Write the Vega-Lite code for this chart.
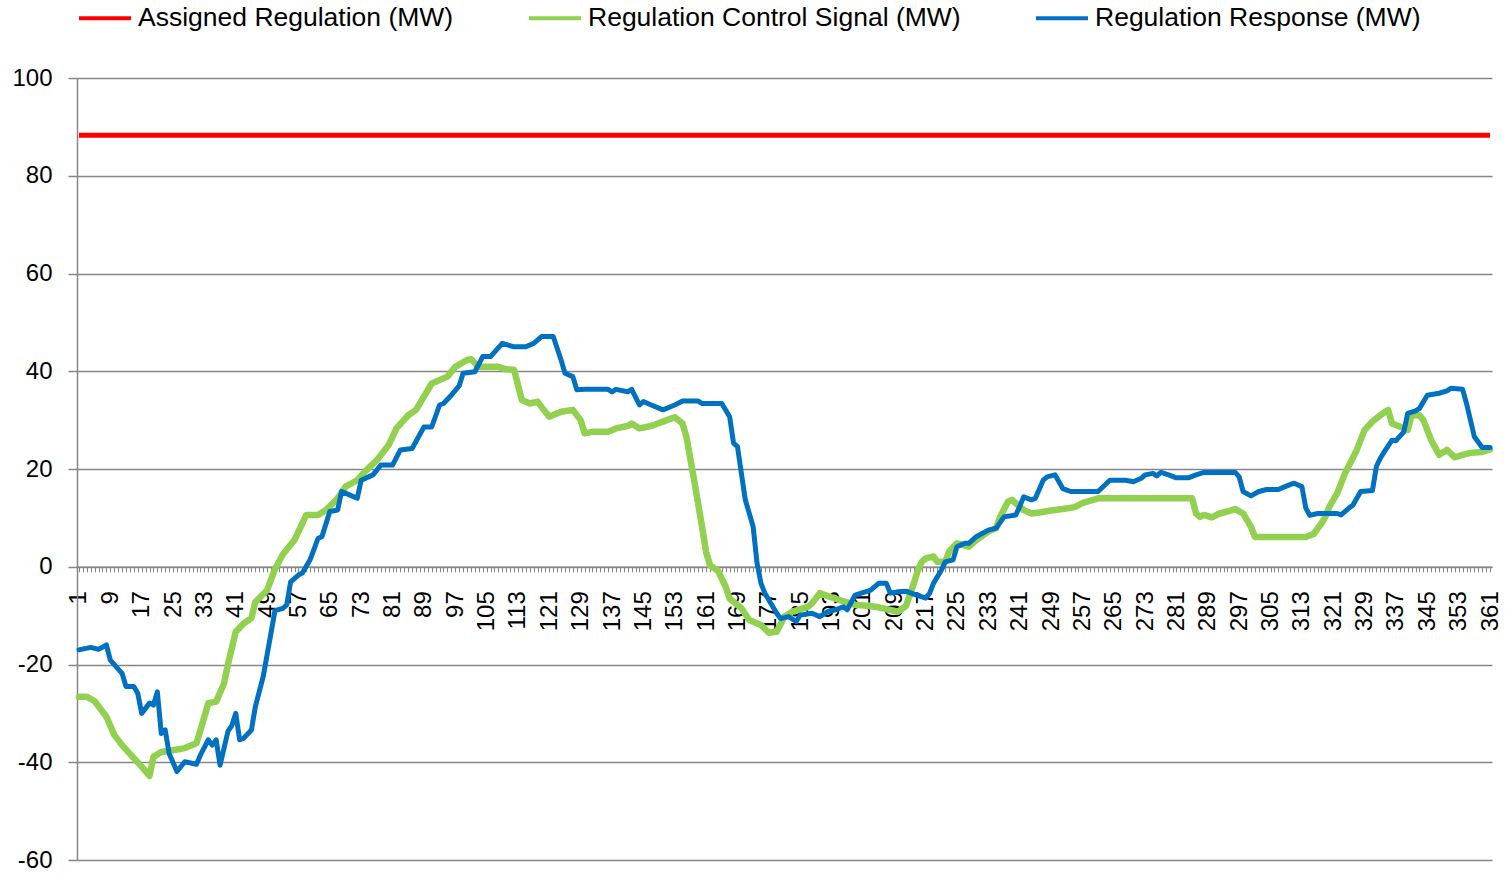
{
  "$schema": "https://vega.github.io/schema/vega-lite/v6.json",
  "width": 1415,
  "height": 782,
  "autosize": "none",
  "padding": {"left": 77, "top": 78, "right": 18, "bottom": 15},
  "background": "white",
  "config": {
    "view": {"stroke": null},
    "font": "Liberation Sans",
    "axis": {"labelFont": "Liberation Sans", "labelColor": "#000000", "titleFont": "Liberation Sans"},
    "legend": {"labelFont": "Liberation Sans"}
  },
  "datasets": {
    "assigned": [
      {"t": 1, "v": 88.3}, {"t": 361, "v": 88.3}
    ],
    "signal": [
      {"t":1,"v":-26.6},{"t":3,"v":-26.6},{"t":5,"v":-27.5},{"t":8,"v":-30.7},{"t":10,"v":-34.4},{"t":12,"v":-36.5},{"t":14,"v":-38.3},{"t":17,"v":-40.9},{"t":19,"v":-42.8},{"t":20,"v":-38.9},{"t":22,"v":-37.9},{"t":26,"v":-37.4},{"t":28,"v":-37.1},{"t":31,"v":-36.1},{"t":33,"v":-30.7},{"t":34,"v":-27.9},{"t":36,"v":-27.6},{"t":38,"v":-23.9},{"t":39,"v":-20},{"t":41,"v":-13.3},{"t":43,"v":-11.6},{"t":45,"v":-10.5},{"t":46,"v":-7.2},{"t":49,"v":-4.8},{"t":51,"v":-0.5},{"t":53,"v":2.5},{"t":55,"v":4.5},{"t":56,"v":5.5},{"t":58,"v":8.9},{"t":59,"v":10.6},{"t":62,"v":10.6},{"t":64,"v":11.6},{"t":67,"v":14},{"t":69,"v":16.4},{"t":72,"v":17.7},{"t":74,"v":19.5},{"t":77,"v":21.8},{"t":80,"v":24.9},{"t":82,"v":28.3},{"t":85,"v":31},{"t":87,"v":32.1},{"t":89,"v":34.8},{"t":91,"v":37.5},{"t":95,"v":38.9},{"t":97,"v":40.9},{"t":100,"v":42.3},{"t":101,"v":42.5},{"t":103,"v":40.9},{"t":108,"v":40.9},{"t":110,"v":40.4},{"t":112,"v":40.3},{"t":114,"v":34.1},{"t":116,"v":33.4},{"t":118,"v":33.8},{"t":119,"v":32.7},{"t":121,"v":30.7},{"t":124,"v":31.7},{"t":127,"v":32.1},{"t":129,"v":30},{"t":130,"v":27.3},{"t":132,"v":27.6},{"t":136,"v":27.6},{"t":138,"v":28.3},{"t":141,"v":28.8},{"t":142,"v":29.3},{"t":144,"v":28.3},{"t":147,"v":28.8},{"t":151,"v":30},{"t":153,"v":30.6},{"t":155,"v":29.3},{"t":156,"v":26.5},{"t":158,"v":17.5},{"t":160,"v":8},{"t":161,"v":3},{"t":162,"v":0.3},{"t":164,"v":-0.8},{"t":166,"v":-4.1},{"t":167,"v":-6.5},{"t":170,"v":-8.5},{"t":172,"v":-10.9},{"t":175,"v":-11.9},{"t":177,"v":-13.5},{"t":179,"v":-13.3},{"t":181,"v":-10.2},{"t":183,"v":-9.2},{"t":187,"v":-8.2},{"t":188,"v":-7.5},{"t":190,"v":-5.4},{"t":192,"v":-6},{"t":195,"v":-6.8},{"t":199,"v":-7.8},{"t":202,"v":-8},{"t":205,"v":-8.3},{"t":210,"v":-9.2},{"t":212,"v":-8},{"t":214,"v":-3.4},{"t":215,"v":-0.8},{"t":216,"v":1},{"t":217,"v":1.7},{"t":219,"v":2.1},{"t":220,"v":1},{"t":222,"v":1},{"t":223,"v":3.1},{"t":225,"v":4.8},{"t":228,"v":4.1},{"t":230,"v":5.5},{"t":233,"v":7.2},{"t":235,"v":7.9},{"t":236,"v":10.2},{"t":238,"v":13.3},{"t":239,"v":13.7},{"t":242,"v":11.6},{"t":244,"v":10.9},{"t":246,"v":11.1},{"t":249,"v":11.5},{"t":252,"v":11.8},{"t":255,"v":12.2},{"t":257,"v":13},{"t":259,"v":13.5},{"t":261,"v":14},{"t":285,"v":14},{"t":286,"v":10.9},{"t":287,"v":10.2},{"t":288,"v":10.6},{"t":290,"v":10.1},{"t":292,"v":10.9},{"t":294,"v":11.3},{"t":296,"v":11.8},{"t":298,"v":10.9},{"t":300,"v":8.2},{"t":301,"v":6.1},{"t":314,"v":6.1},{"t":316,"v":6.7},{"t":318,"v":8.9},{"t":319,"v":10.2},{"t":320,"v":12.3},{"t":322,"v":15},{"t":324,"v":19.1},{"t":327,"v":23.9},{"t":329,"v":28},{"t":331,"v":29.7},{"t":333,"v":31},{"t":335,"v":32.1},{"t":336,"v":29.3},{"t":338,"v":28.7},{"t":340,"v":28},{"t":341,"v":31},{"t":343,"v":31},{"t":344,"v":30},{"t":346,"v":25.9},{"t":348,"v":22.9},{"t":350,"v":23.9},{"t":352,"v":22.4},{"t":354,"v":22.9},{"t":356,"v":23.3},{"t":359,"v":23.5},{"t":361,"v":24}
    ],
    "response": [
      {"t":1,"v":-17},{"t":4,"v":-16.5},{"t":6,"v":-16.9},{"t":8,"v":-16},{"t":9,"v":-19.1},{"t":12,"v":-21.8},{"t":13,"v":-24.5},{"t":15,"v":-24.5},{"t":16,"v":-25.9},{"t":17,"v":-30},{"t":19,"v":-27.9},{"t":20,"v":-28.3},{"t":21,"v":-25.6},{"t":22,"v":-34.1},{"t":23,"v":-33.4},{"t":24,"v":-38.2},{"t":26,"v":-41.9},{"t":28,"v":-39.9},{"t":31,"v":-40.4},{"t":32,"v":-38.5},{"t":34,"v":-35.4},{"t":35,"v":-36.5},{"t":36,"v":-35.4},{"t":37,"v":-40.6},{"t":39,"v":-33.7},{"t":40,"v":-32.5},{"t":41,"v":-30},{"t":42,"v":-35.4},{"t":43,"v":-35.1},{"t":45,"v":-33.4},{"t":46,"v":-28.6},{"t":48,"v":-22.5},{"t":50,"v":-13.5},{"t":51,"v":-9},{"t":53,"v":-8.5},{"t":54,"v":-7.8},{"t":55,"v":-3.1},{"t":57,"v":-1.7},{"t":58,"v":-1.3},{"t":60,"v":1.5},{"t":62,"v":5.8},{"t":63,"v":6.2},{"t":65,"v":11.3},{"t":67,"v":11.6},{"t":68,"v":15.4},{"t":70,"v":14.7},{"t":72,"v":14},{"t":73,"v":17.7},{"t":76,"v":18.8},{"t":78,"v":20.8},{"t":81,"v":20.8},{"t":83,"v":23.9},{"t":86,"v":24.2},{"t":89,"v":28.6},{"t":91,"v":28.6},{"t":93,"v":33.1},{"t":94,"v":33.4},{"t":96,"v":35.1},{"t":98,"v":37},{"t":99,"v":39.6},{"t":102,"v":39.9},{"t":104,"v":43},{"t":106,"v":43},{"t":109,"v":45.7},{"t":112,"v":45},{"t":115,"v":45},{"t":117,"v":45.7},{"t":119,"v":47.1},{"t":122,"v":47.1},{"t":124,"v":42.3},{"t":125,"v":39.6},{"t":127,"v":38.9},{"t":128,"v":36.2},{"t":130,"v":36.3},{"t":136,"v":36.3},{"t":137,"v":35.8},{"t":138,"v":36.3},{"t":141,"v":35.8},{"t":142,"v":36.3},{"t":144,"v":33.1},{"t":145,"v":33.8},{"t":147,"v":33.1},{"t":150,"v":32.1},{"t":153,"v":33.1},{"t":155,"v":33.9},{"t":159,"v":33.9},{"t":160,"v":33.4},{"t":165,"v":33.4},{"t":167,"v":30.7},{"t":168,"v":25.3},{"t":169,"v":24.6},{"t":170,"v":19.1},{"t":171,"v":13.7},{"t":173,"v":8.2},{"t":174,"v":0.7},{"t":175,"v":-3.4},{"t":176,"v":-5.4},{"t":177,"v":-6.8},{"t":179,"v":-9.5},{"t":180,"v":-10.6},{"t":182,"v":-10.2},{"t":184,"v":-11.2},{"t":185,"v":-9.9},{"t":188,"v":-9.5},{"t":190,"v":-10.2},{"t":192,"v":-9.2},{"t":194,"v":-8.8},{"t":196,"v":-8.2},{"t":197,"v":-8.8},{"t":199,"v":-5.8},{"t":201,"v":-5.3},{"t":203,"v":-4.8},{"t":205,"v":-3.4},{"t":207,"v":-3.4},{"t":208,"v":-5.4},{"t":210,"v":-5.1},{"t":212,"v":-5},{"t":214,"v":-5.6},{"t":217,"v":-6.4},{"t":218,"v":-5.5},{"t":219,"v":-3.4},{"t":221,"v":-0.7},{"t":222,"v":1},{"t":224,"v":1.4},{"t":225,"v":4.1},{"t":227,"v":4.8},{"t":228,"v":4.8},{"t":230,"v":6.2},{"t":233,"v":7.5},{"t":235,"v":7.9},{"t":237,"v":10.2},{"t":240,"v":10.6},{"t":241,"v":12.3},{"t":242,"v":14.3},{"t":244,"v":13.7},{"t":245,"v":14},{"t":247,"v":17.7},{"t":248,"v":18.4},{"t":250,"v":18.8},{"t":252,"v":16},{"t":254,"v":15.4},{"t":261,"v":15.4},{"t":264,"v":17.7},{"t":268,"v":17.7},{"t":270,"v":17.4},{"t":272,"v":18.1},{"t":273,"v":18.8},{"t":275,"v":19.1},{"t":276,"v":18.6},{"t":277,"v":19.3},{"t":279,"v":18.8},{"t":281,"v":18.2},{"t":284,"v":18.2},{"t":286,"v":18.8},{"t":288,"v":19.3},{"t":296,"v":19.3},{"t":297,"v":18.4},{"t":298,"v":15.4},{"t":300,"v":14.5},{"t":302,"v":15.4},{"t":304,"v":15.8},{"t":307,"v":15.8},{"t":309,"v":16.5},{"t":311,"v":17.1},{"t":313,"v":16.4},{"t":314,"v":12},{"t":315,"v":10.5},{"t":317,"v":10.9},{"t":322,"v":10.9},{"t":323,"v":10.6},{"t":325,"v":12},{"t":326,"v":12.6},{"t":328,"v":15.4},{"t":331,"v":15.6},{"t":332,"v":20.5},{"t":333,"v":22.2},{"t":334,"v":23.5},{"t":336,"v":25.9},{"t":337,"v":25.8},{"t":339,"v":27.6},{"t":340,"v":31.4},{"t":342,"v":31.9},{"t":343,"v":32.4},{"t":345,"v":35.1},{"t":348,"v":35.5},{"t":350,"v":36},{"t":351,"v":36.5},{"t":354,"v":36.3},{"t":355,"v":33.4},{"t":357,"v":26.6},{"t":359,"v":24.4},{"t":361,"v":24.4}
    ]
  },
  "encoding": {
    "x": {
      "field": "t",
      "type": "quantitative",
      "scale": {"domain": [0.5, 361.5], "nice": false, "zero": false},
      "axis": {
        "title": null,
        "tickCount": 361,
        "format": "d",
        "labelExpr": "(datum.value - 1) % 8 == 0 ? datum.label : ''",
        "labelOverlap": false,
        "labelBound": false,
        "labelFlush": false,
        "labelAngle": -90,
        "labelAlign": "right",
        "labelBaseline": "middle",
        "labelFontSize": 24,
        "labelPadding": 19,
        "offset": -293.25,
        "grid": false,
        "domain": true,
        "domainColor": "#868686",
        "domainWidth": 1.5,
        "ticks": true,
        "tickColor": "#868686",
        "tickSize": 5,
        "tickWidth": 1
      }
    },
    "y": {
      "field": "v",
      "type": "quantitative",
      "scale": {"domain": [-60, 100], "nice": false, "zero": false},
      "axis": {
        "title": null,
        "values": [-60, -40, -20, 0, 20, 40, 60, 80, 100],
        "labelExpr": "'' + datum.value",
        "labelFontSize": 24,
        "labelPadding": 16,
        "labelBaseline": "middle",
        "grid": true,
        "gridColor": "#868686",
        "gridWidth": 1.5,
        "domain": true,
        "domainColor": "#868686",
        "domainWidth": 1.5,
        "tickColor": "#868686",
        "tickSize": 9,
        "tickWidth": 1.5
      }
    }
  },
  "layer": [
    {
      "data": {"name": "signal"},
      "mark": {"type": "line", "strokeWidth": 6.5, "strokeJoin": "round", "strokeCap": "round"},
      "encoding": {
        "color": {
          "datum": "Regulation Control Signal (MW)",
          "type": "nominal",
          "scale": {
            "domain": ["Assigned Regulation (MW)", "Regulation Control Signal (MW)", "Regulation Response (MW)"],
            "range": ["#FF0000", "#92D050", "#0070C0"]
          },
          "legend": {
            "title": null,
            "orient": "none",
            "legendX": 0,
            "legendY": -88,
            "direction": "horizontal",
            "symbolType": "stroke",
            "symbolSize": 2704,
            "symbolStrokeWidth": 4,
            "labelFontSize": 26.5,
            "labelLimit": 600,
            "labelOffset": 5,
            "columnPadding": 67,
            "padding": 0
          }
        }
      }
    },
    {
      "data": {"name": "response"},
      "mark": {"type": "line", "strokeWidth": 5, "strokeJoin": "round", "strokeCap": "round"},
      "encoding": {"color": {"datum": "Regulation Response (MW)", "type": "nominal"}}
    },
    {
      "data": {"name": "assigned"},
      "mark": {"type": "line", "strokeWidth": 5},
      "encoding": {"color": {"datum": "Assigned Regulation (MW)", "type": "nominal"}}
    }
  ]
}
